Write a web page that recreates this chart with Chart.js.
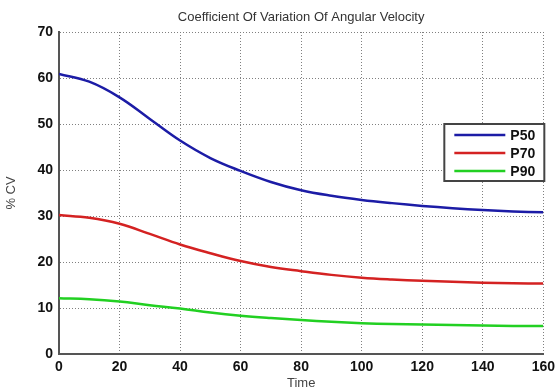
<!DOCTYPE html>
<html>
<head>
<meta charset="utf-8">
<script src="https://cdn.jsdelivr.net/npm/chart.js@4"></script>
<style>
  body { margin: 0; background: #fff; }
  canvas { display: block; }
</style>
</head>
<body>
<canvas id="cvChart" width="560" height="388"></canvas>
<script>
const times = [0, 10, 20, 30, 40, 50, 60, 70, 80, 90, 100, 110, 120, 130, 140, 150, 160];
const p50 = [60.9, 59.2, 55.8, 51.1, 46.4, 42.6, 39.8, 37.4, 35.6, 34.4, 33.5, 32.8, 32.2, 31.7, 31.3, 31.0, 30.8];
const p70 = [30.2, 29.6, 28.3, 26.1, 23.8, 21.9, 20.2, 18.9, 18.0, 17.2, 16.6, 16.2, 15.9, 15.7, 15.5, 15.4, 15.3];
const p90 = [12.1, 11.9, 11.4, 10.6, 9.9, 9.0, 8.3, 7.8, 7.4, 7.0, 6.7, 6.5, 6.4, 6.3, 6.2, 6.1, 6.1];
const seriesNames = ["P50", "P70", "P90"];
const seriesColors = ["#1c1ca6", "#d42222", "#22d022"];
const xTicks = [0, 20, 40, 60, 80, 100, 120, 140, 160];
const yTicks = [0, 10, 20, 30, 40, 50, 60, 70];
const chartTitle = "Coefficient Of Variation Of Angular Velocity";

const toPoints = vals => vals.map((v, i) => ({ x: times[i], y: v }));

// title centred on the plot area, like the original figure
const titlePlugin = {
  id: "plotTitle",
  afterDraw(chart) {
    const { ctx, chartArea } = chart;
    ctx.save();
    ctx.font = "13px 'Liberation Sans', Arial, sans-serif";
    ctx.fillStyle = "#333";
    ctx.textAlign = "center";
    ctx.textBaseline = "middle";
    ctx.fillText(chartTitle, (chartArea.left + chartArea.right) / 2, 17);
    ctx.restore();
  }
};

// boxed legend sitting inside the plot, right side
const legendBox = {
  id: "legendBox",
  afterDraw(chart) {
    const { ctx, chartArea } = chart;
    const w = 100, h = 57;
    const x = chartArea.right - w + 1, y = 124;
    ctx.save();
    ctx.fillStyle = "#fff";
    ctx.fillRect(x, y, w, h);
    ctx.strokeStyle = "#444";
    ctx.lineWidth = 2;
    ctx.strokeRect(x, y, w, h);
    ctx.font = "bold 14px 'Liberation Sans', Arial, sans-serif";
    ctx.textBaseline = "middle";
    chart.data.datasets.forEach((ds, i) => {
      const ry = y + 11 + i * 18;
      ctx.strokeStyle = ds.borderColor;
      ctx.lineWidth = 2.5;
      ctx.beginPath();
      ctx.moveTo(x + 10, ry);
      ctx.lineTo(x + 61, ry);
      ctx.stroke();
      ctx.fillStyle = "#111";
      ctx.fillText(ds.label, x + 66, ry + 1);
    });
    ctx.restore();
  }
};

const tickFont = { family: "'Liberation Sans', Arial, sans-serif", size: 14, weight: "bold" };

new Chart(document.getElementById("cvChart"), {
  type: "line",
  data: {
    datasets: [p50, p70, p90].map((vals, i) => ({
      label: seriesNames[i],
      data: toPoints(vals),
      borderColor: seriesColors[i],
      borderWidth: 2.5,
      pointRadius: 0,
      tension: 0.4,
      fill: false
    }))
  },
  options: {
    responsive: false,
    animation: false,
    layout: { padding: { top: 32, left: 0, right: 0, bottom: 0 } },
    plugins: {
      legend: { display: false },
      title: { display: false },
      tooltip: { enabled: false }
    },
    scales: {
      x: {
        type: "linear",
        min: 0,
        max: 160,
        afterBuildTicks: s => { s.ticks = xTicks.map(v => ({ value: v })); },
        afterFit: s => { s.height = 34; },
        grid: { color: "#808080", lineWidth: 1, drawTicks: false },
        border: { display: true, color: "#555", width: 2, dash: [1, 2] },
        ticks: { font: tickFont, color: "#111", padding: 5, maxRotation: 0 },
        title: {
          display: true,
          text: "Time",
          color: "#444",
          font: { family: "'Liberation Sans', Arial, sans-serif", size: 13 },
          padding: { top: 0, bottom: -3 }
        }
      },
      y: {
        min: 0,
        max: 70,
        afterBuildTicks: s => { s.ticks = yTicks.map(v => ({ value: v })); },
        afterFit: s => { s.width = 59; },
        grid: { color: "#808080", lineWidth: 1, drawTicks: false },
        border: { display: true, color: "#555", width: 2, dash: [1, 2] },
        ticks: { font: tickFont, color: "#111", padding: 6 },
        title: {
          display: true,
          text: "% CV",
          color: "#444",
          font: { family: "'Liberation Sans', Arial, sans-serif", size: 13 },
          padding: { top: 4, bottom: 4 }
        }
      }
    }
  },
  plugins: [titlePlugin, legendBox]
});
</script>
</body>
</html>
